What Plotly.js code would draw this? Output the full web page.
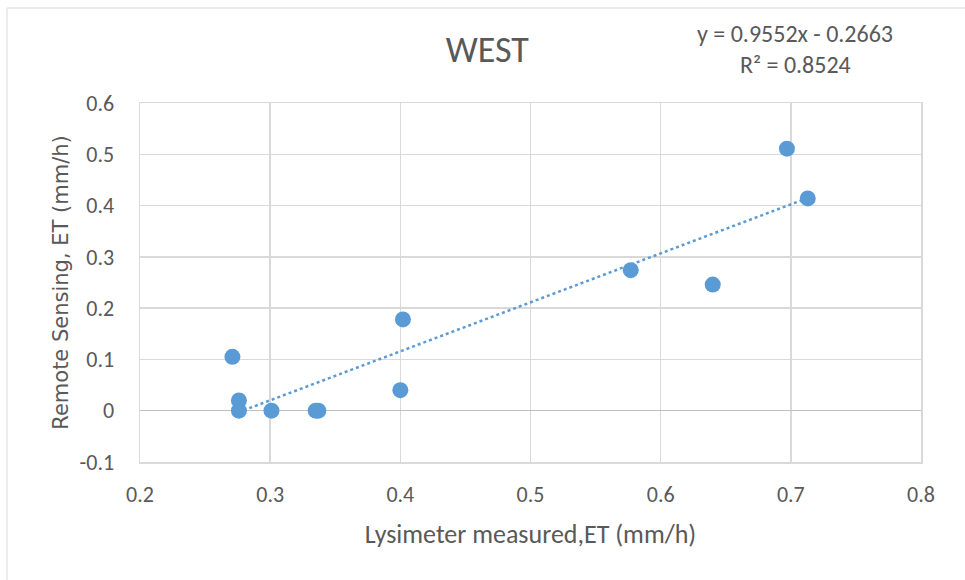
<!DOCTYPE html>
<html>
<head>
<meta charset="utf-8">
<script src="https://cdn.plot.ly/plotly-3.0.1.min.js"></script>
<style>html,body{margin:0;padding:0;background:#fff;}#chart{width:965px;height:580px;}</style>
</head>
<body>
<div id="chart"></div>
<script>
const lysimeterET = [0.271, 0.276, 0.276, 0.301, 0.335, 0.337, 0.400, 0.402, 0.577, 0.640, 0.697, 0.713];
const remoteET    = [0.105, 0.020, 0.000, 0.000, 0.000, 0.000, 0.040, 0.178, 0.274, 0.246, 0.511, 0.414];
const slope = 0.9552;
const intercept = -0.2663;
const trendX = [Math.min(...lysimeterET), Math.max(...lysimeterET)];
const trendY = trendX.map(x => slope * x + intercept);
const xTicks = [0.2, 0.3, 0.4, 0.5, 0.6, 0.7, 0.8];
const yTicks = [-0.1, 0, 0.1, 0.2, 0.3, 0.4, 0.5, 0.6];

const font = "Carlito, Calibri, 'Liberation Sans Narrow', Lato, sans-serif";
const grey = '#595959';

const traces = [
  {x: trendX, y: trendY, mode: 'lines', type: 'scatter',
   line: {color: '#5b9bd5', width: 2.5, dash: 'dot'}, hoverinfo: 'skip'},
  {x: lysimeterET, y: remoteET, mode: 'markers', type: 'scatter',
   marker: {color: '#5b9bd5', size: 16}}
];

const layout = {
  width: 965, height: 580,
  margin: {l: 140, r: 44, t: 103, b: 118},
  paper_bgcolor: '#fff', plot_bgcolor: '#fff',
  showlegend: false,
  font: {family: font, color: grey, size: 22},
  title: {text: 'WEST', x: 0.505, xanchor: 'center', xref: 'container', y: 0.915, yanchor: 'middle',
          font: {size: 36, color: grey, family: font}},
  xaxis: {range: [0.2, 0.8], tickvals: xTicks, ticktext: xTicks.map(String),
          showgrid: true, gridcolor: '#d9d9d9', gridwidth: 1.5, zeroline: false,
          showline: true, linecolor: '#d9d9d9', linewidth: 1.5, mirror: true,
          ticks: '', tickfont: {size: 22, color: grey}, ticklabelstandoff: 12,
          title: {text: 'Lysimeter measured,ET (mm/h)', standoff: 18, font: {size: 26, color: grey}}},
  yaxis: {range: [-0.1, 0.6], tickvals: yTicks, ticktext: yTicks.map(String),
          showgrid: true, gridcolor: '#d9d9d9', gridwidth: 1.5,
          zeroline: true, zerolinecolor: '#bfbfbf', zerolinewidth: 1.5,
          showline: true, linecolor: '#d9d9d9', linewidth: 1.5, mirror: true,
          ticks: '', tickfont: {size: 22, color: grey}, ticklabelstandoff: 20,
          title: {text: 'Remote Sensing, ET (mm/h)', standoff: 5, font: {size: 21, color: grey, family: "'DejaVu Sans', sans-serif"}}},
  annotations: [
    {xref: 'paper', yref: 'paper', x: (795-140)/781, y: (462-33)/359, text: 'y = 0.9552x - 0.2663',
     showarrow: false, xanchor: 'center', yanchor: 'middle', font: {size: 24, color: grey}},
    {xref: 'paper', yref: 'paper', x: (795-140)/781, y: (462-64)/359, text: 'R² = 0.8524',
     showarrow: false, xanchor: 'center', yanchor: 'middle', font: {size: 24, color: grey}}
  ],
  shapes: [
    {type: 'rect', xref: 'paper', yref: 'paper', x0: (7-140)/781, x1: 1.2, y0: -0.5, y1: (462-8)/359,
     line: {color: '#d9d9d9', width: 1}, fillcolor: 'rgba(0,0,0,0)', layer: 'below'}
  ]
};

Plotly.newPlot('chart', traces, layout, {displayModeBar: false, staticPlot: true});
</script>
</body>
</html>
